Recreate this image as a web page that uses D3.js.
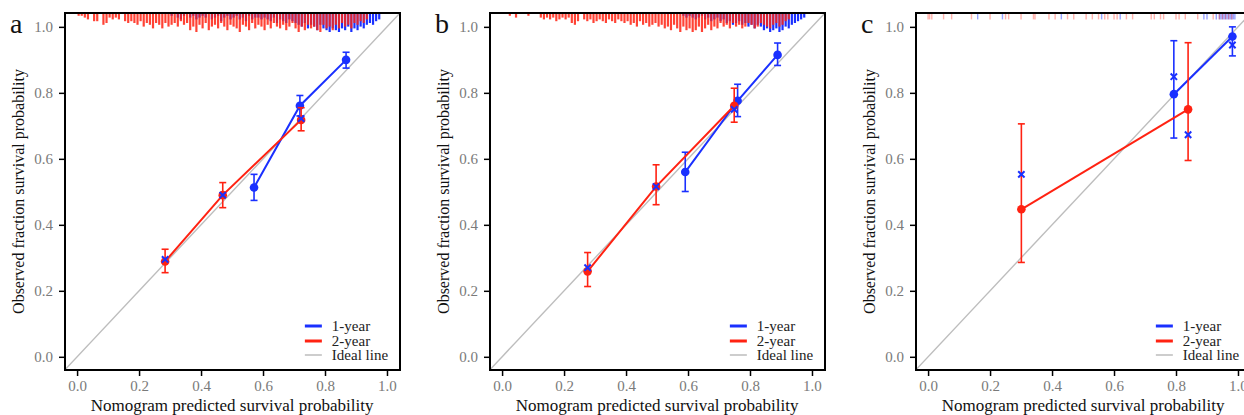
<!DOCTYPE html>
<html>
<head>
<meta charset="utf-8">
<script src="https://cdn.jsdelivr.net/npm/d3@7"></script>
<style>
  body { margin: 0; background: #fff; }
  svg text { font-family: "Liberation Serif", "Times New Roman", serif; }
</style>
</head>
<body>
<div id="chart"></div>
<script>
// ---- data ----
var tickValues = [0, 0.2, 0.4, 0.6, 0.8, 1.0];
var legendLabels = ["1-year", "2-year", "Ideal line"];
var xTitle = "Nomogram predicted survival probability";
var yTitle = "Observed fraction survival probability";

// panel a
var aOneX = [0.571, 0.719, 0.868], aOneY = [0.513, 0.761, 0.900];
var aOneLo = [0.474, 0.730, 0.875], aOneHi = [0.553, 0.792, 0.923];
var aTwoX = [0.284, 0.470, 0.723], aTwoY = [0.289, 0.490, 0.718];
var aTwoLo = [0.255, 0.452, 0.685], aTwoHi = [0.326, 0.528, 0.755];
var aCorrX = [0.284, 0.470, 0.723], aCorrY = [0.295, 0.490, 0.722];
// histogram counts per 0.01 bin, red starts at bin 0, blue at bin 30
var aRugRed = [1,1,2,3,0,4,4,0,6,5, 2,3,2,3,0,4,5,4,5,6, 4,7,5,6,8,5,6,8,5,7,
  6,5,7,4,6,5,9,7,10,6, 8,5,9,7,6,8,5,7,9,6, 7,8,10,6,7,9,5,8,6,7,
  9,6,8,5,7,8,6,9,7,5, 8,10,7,9,6,8,7,9,10,6, 8,7,9,6,8,5,7,6,8,5, 6,4,5,3];
var aRugBlue = [1,0,2,3,1,0,2,1,3,2, 1,2,0,3,2,1,4,2,1,3, 2,1,3,2,4,1,3,2,2,3,
  2,3,4,2,5,3,4,5,3,4, 5,6,7,5,8,6,7,9,6,8, 9,10,8,9,10,8,9,7,10,8, 9,7,8,6,5,6,4,3];

// panel b
var bOneX = [0.591, 0.760, 0.889], bOneY = [0.560, 0.776, 0.915];
var bOneLo = [0.501, 0.728, 0.883], bOneHi = [0.620, 0.826, 0.951];
var bTwoX = [0.276, 0.497, 0.749], bTwoY = [0.259, 0.516, 0.761];
var bTwoLo = [0.213, 0.461, 0.711], bTwoHi = [0.316, 0.582, 0.814];
var bCorrX = [0.276, 0.497, 0.749], bCorrY = [0.270, 0.516, 0.750];
var bRugRed = [0,0,1,0,2,0,0,0,1,0, 0,0,2,3,2,3,2,4,3,2, 3,2,5,6,4,0,3,4,3,5,
  4,3,4,5,3,4,5,3,4,5, 4,6,5,7,4,6,5,7,6,5, 7,6,8,7,9,6,8,10,7,9, 8,10,9,7,10,8,6,9,7,8,
  5,7,6,8,5,7,6,8,7,5, 6,8,7,5,6,7,8,6,5,7, 6,4,3];
var bRugBlue = [1,2,1,2,3,2,1,3,2,4, 3,2,4,3,5,4,6,5,4,6, 5,7,6,8,6,7,9,8,10,9,
  8,10,9,7,8,6,5,4,3,2];

// panel c
var cOneX = [0.793, 0.982], cOneY = [0.796, 0.971];
var cOneLo = [0.663, 0.912], cOneHi = [0.958, 1.000];
var cTwoX = [0.301, 0.839], cTwoY = [0.447, 0.750];
var cTwoLo = [0.286, 0.595], cTwoHi = [0.706, 0.952];
var cCorrX = [0.301, 0.793, 0.839, 0.982], cCorrY = [0.553, 0.849, 0.673, 0.945];
// individual predictions shown as a light rug
var cRugRed = [0.0, 0.005, 0.012, 0.05, 0.076, 0.14, 0.20, 0.25, 0.26, 0.30, 0.34, 0.345,
  0.39, 0.41, 0.45, 0.47, 0.51, 0.53, 0.55, 0.57, 0.58, 0.60, 0.61, 0.64, 0.66, 0.72,
  0.73, 0.75, 0.76, 0.80, 0.81, 0.83, 0.87, 0.92, 0.94, 0.95, 0.96, 0.97, 0.98];
var cRugBlue = [0.16, 0.24, 0.43, 0.56, 0.62, 0.89, 0.90, 0.93, 0.94, 0.945, 0.95,
  0.955, 0.96, 0.965, 0.97, 0.975, 0.98, 0.985, 0.99];

var BLUE = "#1a30ff", RED = "#ff2212", GREY = "#bdbdbd";

function series(xs, ys, lo, hi) {
  return xs.map(function (d, i) { return {x: d, y: ys[i], lo: lo[i], hi: hi[i]}; });
}
function pairs(xs, ys) {
  return xs.map(function (d, i) { return {x: d, y: ys[i]}; });
}
function bins(counts, start) {
  return counts.map(function (c, i) { return {x: (start + i) * 0.01 + 0.005, n: c}; });
}

var panels = [
  {label: "a", left: 65, one: series(aOneX, aOneY, aOneLo, aOneHi), two: series(aTwoX, aTwoY, aTwoLo, aTwoHi),
    corr: pairs(aCorrX, aCorrY), rugRed: bins(aRugRed, 0), rugBlue: bins(aRugBlue, 30), light: false},
  {label: "b", left: 490, one: series(bOneX, bOneY, bOneLo, bOneHi), two: series(bTwoX, bTwoY, bTwoLo, bTwoHi),
    corr: pairs(bCorrX, bCorrY), rugRed: bins(bRugRed, 0), rugBlue: bins(bRugBlue, 58), light: false},
  {label: "c", left: 916, one: series(cOneX, cOneY, cOneLo, cOneHi), two: series(cTwoX, cTwoY, cTwoLo, cTwoHi),
    corr: pairs(cCorrX, cCorrY),
    rugRed: cRugRed.map(function (d) { return {x: d, n: 3}; }),
    rugBlue: cRugBlue.map(function (d) { return {x: d, n: 3}; }), light: true}
];

var width = 1244, height = 415;
var plotTop = 13, plotBottom = 370, boxW = 335;

var svg = d3.select("#chart").append("svg")
  .attr("width", width).attr("height", height);

var rugH = d3.scaleLinear().domain([0, 10]).range([0, 18]);

panels.forEach(function (p, pi) {
  var x = d3.scaleLinear().domain([-0.039, 1.042]).range([p.left, p.left + boxW]);
  var y = d3.scaleLinear().domain([-0.04, 1.042]).range([plotBottom, plotTop]);
  var g = svg.append("g");

  var clipId = "clip" + pi;
  g.append("clipPath").attr("id", clipId).append("rect")
    .attr("x", p.left).attr("y", plotTop).attr("width", boxW).attr("height", plotBottom - plotTop);
  var plot = g.append("g").attr("clip-path", "url(#" + clipId + ")");

  // ideal line
  plot.append("line")
    .attr("x1", x(-0.04)).attr("y1", y(-0.04))
    .attr("x2", x(1.05)).attr("y2", y(1.05))
    .attr("stroke", GREY).attr("stroke-width", 1.4);

  // rug / histogram of predictions
  plot.selectAll(".rb").data(p.rugBlue).enter().append("line")
    .attr("x1", function (d) { return x(d.x); }).attr("x2", function (d) { return x(d.x); })
    .attr("y1", plotTop).attr("y2", function (d) { return plotTop + 1 + rugH(d.n); })
    .attr("stroke", BLUE).attr("stroke-width", p.light ? 1.4 : 2.2)
    .attr("stroke-opacity", p.light ? 0.45 : 1);
  plot.selectAll(".rr").data(p.rugRed).enter().append("line")
    .attr("x1", function (d) { return x(d.x); }).attr("x2", function (d) { return x(d.x); })
    .attr("y1", plotTop).attr("y2", function (d) { return plotTop + 1 + rugH(d.n); })
    .attr("stroke", RED).attr("stroke-width", p.light ? 1.4 : 2.2)
    .attr("stroke-opacity", p.light ? 0.35 : 0.85);

  var line = d3.line().x(function (d) { return x(d.x); }).y(function (d) { return y(d.y); });

  [[p.one, BLUE], [p.two, RED]].forEach(function (s) {
    var data = s[0], col = s[1];
    plot.append("path").datum(data).attr("d", line)
      .attr("fill", "none").attr("stroke", col).attr("stroke-width", 2);
    var eb = plot.append("g").selectAll("g").data(data).enter().append("g")
      .attr("stroke", col).attr("stroke-width", 1.6);
    eb.append("line")
      .attr("x1", function (d) { return x(d.x); }).attr("x2", function (d) { return x(d.x); })
      .attr("y1", function (d) { return y(d.lo); }).attr("y2", function (d) { return y(d.hi); });
    eb.append("line")
      .attr("x1", function (d) { return x(d.x) - 3.5; }).attr("x2", function (d) { return x(d.x) + 3.5; })
      .attr("y1", function (d) { return y(d.lo); }).attr("y2", function (d) { return y(d.lo); });
    eb.append("line")
      .attr("x1", function (d) { return x(d.x) - 3.5; }).attr("x2", function (d) { return x(d.x) + 3.5; })
      .attr("y1", function (d) { return y(d.hi); }).attr("y2", function (d) { return y(d.hi); });
    plot.append("g").selectAll("circle").data(data).enter().append("circle")
      .attr("cx", function (d) { return x(d.x); }).attr("cy", function (d) { return y(d.y); })
      .attr("r", 4.3).attr("fill", col);
  });

  // bias-corrected estimates (x marks)
  var cross = d3.symbol().type(d3.symbolX).size(28);
  plot.append("g").selectAll("path").data(p.corr).enter().append("path")
    .attr("d", cross)
    .attr("transform", function (d) { return "translate(" + x(d.x) + "," + y(d.y) + ")"; })
    .attr("fill", "none").attr("stroke", BLUE).attr("stroke-width", 2);

  // axes
  var yAxis = g.append("g").attr("transform", "translate(" + p.left + ",0)")
    .call(d3.axisLeft(y).tickValues(tickValues).tickFormat(d3.format(".1f")).tickSize(6).tickPadding(6));
  var xAxis = g.append("g").attr("transform", "translate(0," + plotBottom + ")")
    .call(d3.axisBottom(x).tickValues(tickValues).tickFormat(d3.format(".1f")).tickSize(6).tickPadding(4));
  [yAxis, xAxis].forEach(function (ax) {
    ax.select(".domain").remove();
    ax.selectAll(".tick line").attr("stroke", "#000").attr("stroke-width", 1.5);
    ax.selectAll(".tick text").attr("fill", "#7a7a7a").style("font-size", "15px")
      .style("font-family", "'Liberation Serif', serif");
  });

  // box
  g.append("rect").attr("x", p.left).attr("y", plotTop).attr("width", boxW).attr("height", plotBottom - plotTop)
    .attr("fill", "none").attr("stroke", "#000").attr("stroke-width", 2);

  // titles
  g.append("text").attr("x", x(0.5)).attr("y", 411).attr("text-anchor", "middle")
    .style("font-size", "17px").attr("fill", "#111").text(xTitle);
  g.append("text")
    .attr("transform", "translate(" + (p.left - 41) + "," + ((plotTop + plotBottom) / 2) + ") rotate(-90)")
    .attr("text-anchor", "middle").style("font-size", "16px").attr("fill", "#111").text(yTitle);
  g.append("text").attr("x", p.left - 55).attr("y", 33)
    .style("font-size", "28px").attr("fill", "#111").text(p.label);

  // legend
  var lx = x(0.735), ly = [326, 341, 355];
  var lcol = [BLUE, RED, GREY], lw = [3, 3, 1.5];
  legendLabels.forEach(function (t, i) {
    g.append("line").attr("x1", lx).attr("x2", lx + 17).attr("y1", ly[i]).attr("y2", ly[i])
      .attr("stroke", lcol[i]).attr("stroke-width", lw[i]);
    g.append("text").attr("x", lx + 27).attr("y", ly[i] + 5)
      .style("font-size", "15px").attr("fill", "#222").text(t);
  });
});
</script>
</body>
</html>
